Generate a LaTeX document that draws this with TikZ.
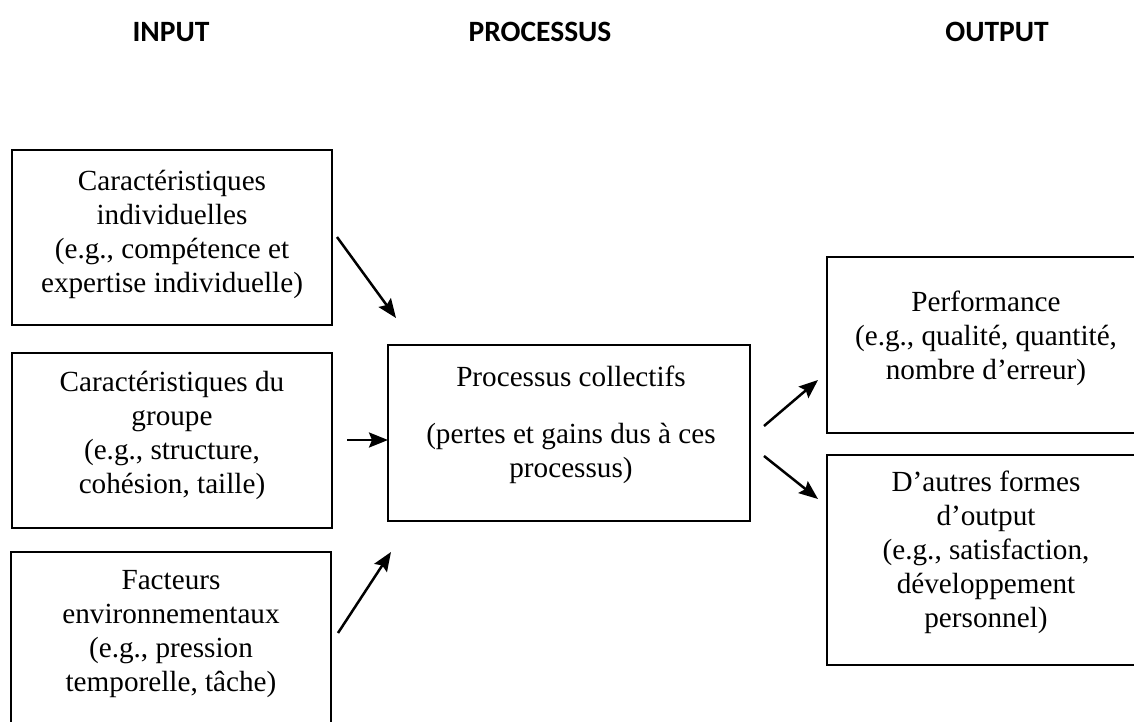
\documentclass[tikz,border=0pt]{standalone}
\usepackage{fontspec}
\setmainfont{Liberation Serif}
\newfontfamily\hdrfont{Carlito}
\usetikzlibrary{arrows.meta}
\begin{document}
\begin{tikzpicture}[x=1pt,y=-1pt,
  box/.style={draw,line width=1.5pt,inner sep=0pt},
  txt/.style={align=center,inner sep=0pt,font=\fontsize{29.2}{34}\selectfont},
  hdr/.style={font=\hdrfont\bfseries\fontsize{29.5}{34}\selectfont,inner sep=0pt},
  arr/.style={line width=2.5pt,-{Stealth[length=19pt,width=15pt,inset=3pt]}}]
\useasboundingbox (0,0) rectangle (1134,722);
\fill[white] (0,0) rectangle (1134,722);
\clip (0,0) rectangle (1134,722);
% headers
\node[hdr] (hin) at (171,32) {INPUT};
\node[hdr] (hpr) at (540,32) {PROCESSUS};
\node[hdr] (hout) at (997,32) {OUTPUT};
% boxes
\node[box,minimum width=320pt,minimum height=175pt] (b1) at (172,237.5) {};
\node[box,minimum width=320pt,minimum height=175pt] (b2) at (172,440.5) {};
\node[box,minimum width=320pt,minimum height=175pt] (b3) at (171,639.5) {};
\node[box,minimum width=362pt,minimum height=176pt] (bc) at (569,433) {};
\node[box,minimum width=318pt,minimum height=176pt] (bp) at (986,345) {};
\node[box,minimum width=318pt,minimum height=210pt] (bo) at (986,560) {};
% texts
\node[txt] (t1) at (172,234) {Caractéristiques\\individuelles\\(e.g., compétence et\\expertise individuelle)};
\node[txt] (t2) at (172,435) {Caractéristiques du\\groupe\\(e.g., structure,\\cohésion, taille)};
\node[txt] (t3) at (171,634) {Facteurs\\environnementaux\\(e.g., pression\\temporelle, tâche)};
\node[txt] (tc) at (571,425) {Processus collectifs\\[23pt](pertes et gains dus à ces\\processus)};
\node[txt] (tp) at (986,338) {Performance\\(e.g., qualité, quantité,\\nombre d’erreur)};
\node[txt] (to) at (986,552) {D’autres formes\\d’output\\(e.g., satisfaction,\\développement\\personnel)};
% arrow end points
\coordinate (a1s) at (337,237); \coordinate (a1e) at (396,318);
\coordinate (a2s) at (347,440); \coordinate (a2e) at (388,440);
\coordinate (a3s) at (338,633); \coordinate (a3e) at (391,552);
\coordinate (a4s) at (764,426); \coordinate (a4e) at (818,380);
\coordinate (a5s) at (764,456); \coordinate (a5e) at (818,499);
\draw[arr] (a1s) -- (a1e);
\draw[arr] (a2s) -- (a2e);
\draw[arr] (a3s) -- (a3e);
\draw[arr] (a4s) -- (a4e);
\draw[arr] (a5s) -- (a5e);
\end{tikzpicture}
\end{document}
